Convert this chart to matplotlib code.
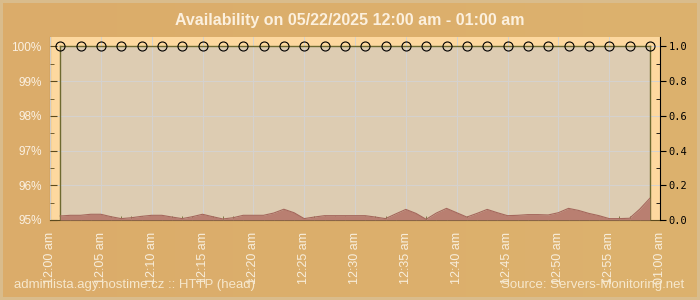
import numpy as np
import matplotlib.pyplot as plt
from matplotlib.ticker import MultipleLocator, FixedLocator

title = "Availability on 05/22/2025 12:00 am - 01:00 am"
footer_left = "adminlista.agy.hostime.cz :: HTTP (head)"
footer_right = "Source: Servers-Monitoring.net"

tick_minutes = [0, 5, 10, 15, 20, 25, 30, 35, 40, 45, 50, 55, 60]
tick_labels = ["12:00 am", "12:05 am", "12:10 am", "12:15 am", "12:20 am", "12:25 am",
               "12:30 am", "12:35 am", "12:40 am", "12:45 am", "12:50 am", "12:55 am",
               "01:00 am"]

# availability samples (every 2 min), all 100 %
avail_minutes = [1, 3, 5, 7, 9, 11, 13, 15, 17, 19, 21, 23, 25, 27, 29,
                 31, 33, 35, 37, 39, 41, 43, 45, 47, 49, 51, 53, 55, 57, 59]
avail_pct = [100.0] * 30

# response time in seconds, one sample per minute
resp_minutes = list(range(1, 60))
resp_sec = [0.023, 0.027, 0.027, 0.033, 0.033, 0.019, 0.008, 0.013, 0.021, 0.027,
            0.027, 0.017, 0.008, 0.019, 0.033, 0.019, 0.006, 0.013, 0.027, 0.027,
            0.027, 0.040, 0.062, 0.042, 0.008, 0.017, 0.025, 0.025, 0.025, 0.025,
            0.025, 0.017, 0.008, 0.035, 0.061, 0.038, 0.004, 0.040, 0.067, 0.042,
            0.017, 0.038, 0.061, 0.042, 0.025, 0.027, 0.031, 0.031, 0.029, 0.042,
            0.067, 0.055, 0.038, 0.025, 0.008, 0.008, 0.010, 0.062, 0.125]

W, H = 700, 300
fig = plt.figure(figsize=(7, 3), dpi=100)

# background with lighter frame
bg = fig.add_axes([0, 0, 1, 1])
img = np.zeros((H, W, 3))
img[:] = np.array([217, 188, 140]) / 255
grad = np.linspace(0, 1, W)[None, :, None]
inner = (np.array([219, 172, 106]) * (1 - grad) + np.array([221, 178, 110]) * grad) / 255
img[3:H - 3, 3:W - 3] = inner[:, 3:W - 3]
bg.imshow(img, extent=[0, W, 0, H], aspect='auto')
bg.set_axis_off()

ax = fig.add_axes([50 / W, 1 - 220 / H, 610 / W, 183.5 / H])
ax.set_facecolor('#fdd89f')
ax.set_xlim(0, 60)
ax.set_ylim(95, 100 + 5 * 10 / 174)

ax.fill_between(avail_minutes, 95, avail_pct, color='#ddccb2', zorder=1, lw=0)
ax.plot([avail_minutes[0], avail_minutes[0]], [95, avail_pct[0]], color='#6e6a30', lw=1, zorder=3)
ax.plot([avail_minutes[-1], avail_minutes[-1]], [95, avail_pct[-1]], color='#6e6a30', lw=1, zorder=3)
ax.plot(avail_minutes, avail_pct, color='#6e6a30', lw=1, zorder=3,
        marker='o', ms=6.5, mfc='none', mec='black', mew=0.8, clip_on=False)

ax.set_axisbelow(False)
ax.grid(True, color='#d4d2cf', lw=0.7)
ax.set_xticks(tick_minutes)
ax.set_xticklabels(tick_labels, rotation=90, family='Liberation Sans')
ax.xaxis.set_minor_locator(FixedLocator(resp_minutes))
ax.tick_params(axis='x', which='major', length=0, pad=8.5, labelsize=9, labelcolor='#f8eedc')
ax.tick_params(axis='x', which='minor', direction='in', length=3, color='#6e6a30')
ax.set_yticks([95, 96, 97, 98, 99, 100])
ax.yaxis.set_minor_locator(MultipleLocator(0.5))
ax.set_yticklabels(["95%", "96%", "97%", "98%", "99%", "100%"], family='Liberation Sans')
ax.tick_params(axis='y', which='major', direction='in', length=5, color='#5c4a1e',
               pad=6, labelsize=8.5, labelcolor='#fbf1e2')
ax.tick_params(axis='y', which='minor', direction='in', length=3, color='#5c4a1e')
for s in ['top', 'right']:
    ax.spines[s].set_visible(False)
ax.spines['left'].set_color('#5c4a1e')
ax.spines['bottom'].set_color('#5c4a1e')

ax2 = ax.twinx()
ax2.set_ylim(0, 1 + 10 / 174)
ax2.fill_between(resp_minutes, 0, resp_sec, color='#b97f71', lw=0, zorder=2)
ax2.plot(resp_minutes, resp_sec, color='#a4675c', lw=0.8, zorder=2)
ax2.set_yticks([0, 0.2, 0.4, 0.6, 0.8, 1.0])
ax2.yaxis.set_minor_locator(MultipleLocator(0.1))
ax2.set_yticklabels(["0.0", "0.2", "0.4", "0.6", "0.8", "1.0"], family='DejaVu Sans Mono')
ax2.tick_params(axis='y', which='major', direction='out', length=4, color='black',
                pad=2, labelsize=7.5, labelcolor='black')
ax2.tick_params(axis='y', which='minor', direction='in', length=3, color='black')
for s in ['top', 'left', 'bottom']:
    ax2.spines[s].set_visible(False)
ax2.spines['right'].set_color('black')

fig.text(0.5, 1 - 21 / H, title, ha='center', va='center', fontsize=11.5,
         fontweight='bold', color='#fcf0de', family='Liberation Sans')
fig.text(14 / W, 1 - 285 / H, footer_left, ha='left', va='center', fontsize=9.5,
         color='#f6e7cc', family='Liberation Sans')
fig.text(684 / W, 1 - 285 / H, footer_right, ha='right', va='center', fontsize=9.5,
         color='#f6e7cc', family='Liberation Sans')

fig.savefig('out.png', dpi=100)
